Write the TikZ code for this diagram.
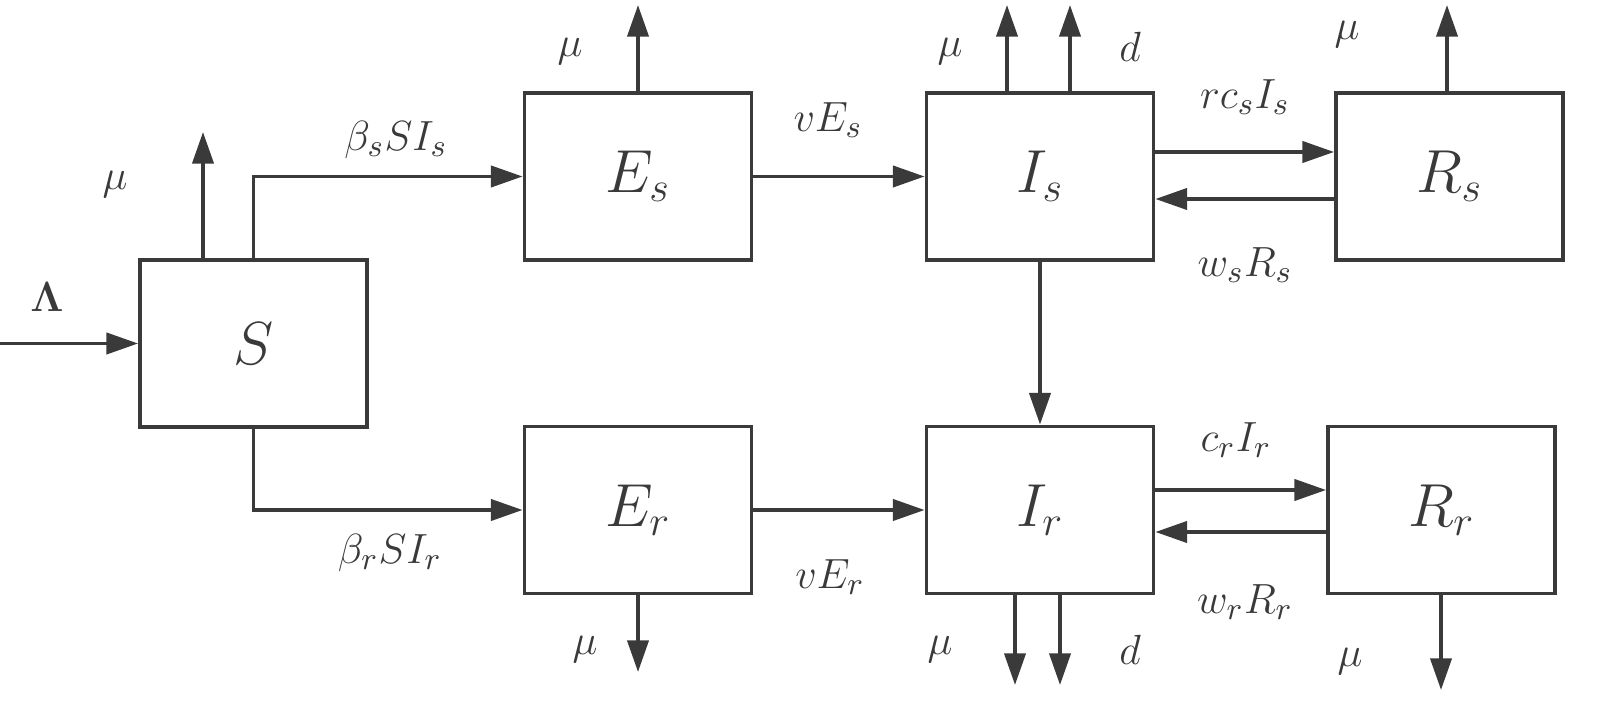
\documentclass[tikz,border=0pt]{standalone}
\usetikzlibrary{arrows.meta}
\definecolor{ink}{RGB}{58,58,58}
\begin{document}
\begin{tikzpicture}[x=0.01cm,y=-0.01cm,
  box/.style={draw=ink,line width=1.05pt,minimum width=2.27cm,minimum height=1.67cm,inner sep=0pt,text=ink,font=\fontsize{16.5}{19}\selectfont},
  arr/.style={draw=ink,line width=1.05pt,-{Triangle[length=9pt,width=6pt]}},
  lab/.style={text=ink,inner sep=0pt,font=\fontsize{13}{15}\selectfont}]
\useasboundingbox (0,0) rectangle (1600,710);
% boxes
\node[box] (S)  at (253.5,343.5) {$S$};
\node[box] (Es) at (638,176.5) {$E_s$};
\node[box] (Er) at (638,510) {$E_r$};
\node[box] (Is) at (1040,176.5) {$I_s$};
\node[box] (Ir) at (1040,510) {$I_r$};
\node[box] (Rs) at (1449.5,176.5) {$R_s$};
\node[box] (Rr) at (1441.5,510) {$R_r$};
% free ends
\coordinate (lam) at (0,343.5);
\coordinate (Smu) at (203,132);
\coordinate (Esmu) at (638,5);
\coordinate (Ermu) at (638,672);
\coordinate (Ismu) at (1007,5);
\coordinate (Isd) at (1070,5);
\coordinate (Irmu) at (1015,685);
\coordinate (Ird) at (1060,685);
\coordinate (Rsmu) at (1447,5);
\coordinate (Rrmu) at (1441,690);
% connectors
\draw[arr] (lam) -- (S.west);
\draw[arr] (S.north -| Smu) -- (Smu);
\draw[arr] (S.north) |- (Es.west);
\draw[arr] (S.south) |- (Er.west);
\draw[arr] (Es.north) -- (Esmu);
\draw[arr] (Er.south) -- (Ermu);
\draw[arr] (Es.east) -- (Is.west);
\draw[arr] (Er.east) -- (Ir.west);
\draw[arr] (Is.north -| Ismu) -- (Ismu);
\draw[arr] (Is.north -| Isd) -- (Isd);
\draw[arr] (Is.south) -- (Ir.north);
\draw[arr] (Ir.south -| Irmu) -- (Irmu);
\draw[arr] (Ir.south -| Ird) -- (Ird);
\draw[arr] (Is.east |- 0,152) -- (Rs.west |- 0,152);
\draw[arr] (Rs.west |- 0,199) -- (Is.east |- 0,199);
\draw[arr] (Ir.east |- 0,490) -- (Rr.west |- 0,490);
\draw[arr] (Rr.west |- 0,532) -- (Ir.east |- 0,532);
\draw[arr] (Rs.north -| Rsmu) -- (Rsmu);
\draw[arr] (Rr.south -| Rrmu) -- (Rrmu);
% labels
\node[lab] (l1) at (47,297) {$\mathbf{\Lambda}$};
\node[lab] (l2) at (115,185) {$\mu$};
\node[lab] (l3) at (396,140) {$\beta_s S I_s$};
\node[lab] (l4) at (390,553) {$\beta_r S I_r$};
\node[lab] (l5) at (570,52) {$\mu$};
\node[lab] (l6) at (585,650) {$\mu$};
\node[lab] (l7) at (828,120) {$vE_s$};
\node[lab] (l8) at (830,577) {$vE_r$};
\node[lab] (l9) at (950,52) {$\mu$};
\node[lab] (l10) at (1130,47) {$d$};
\node[lab] (l11) at (940,650) {$\mu$};
\node[lab] (l12) at (1130,650) {$d$};
\node[lab] (l13) at (1245,97) {$rc_sI_s$};
\node[lab] (l14) at (1245,265) {$w_sR_s$};
\node[lab] (l15) at (1236,440) {$c_rI_r$};
\node[lab] (l16) at (1245,602) {$w_rR_r$};
\node[lab] (l17) at (1347,35) {$\mu$};
\node[lab] (l18) at (1350,662) {$\mu$};
\end{tikzpicture}
\end{document}
